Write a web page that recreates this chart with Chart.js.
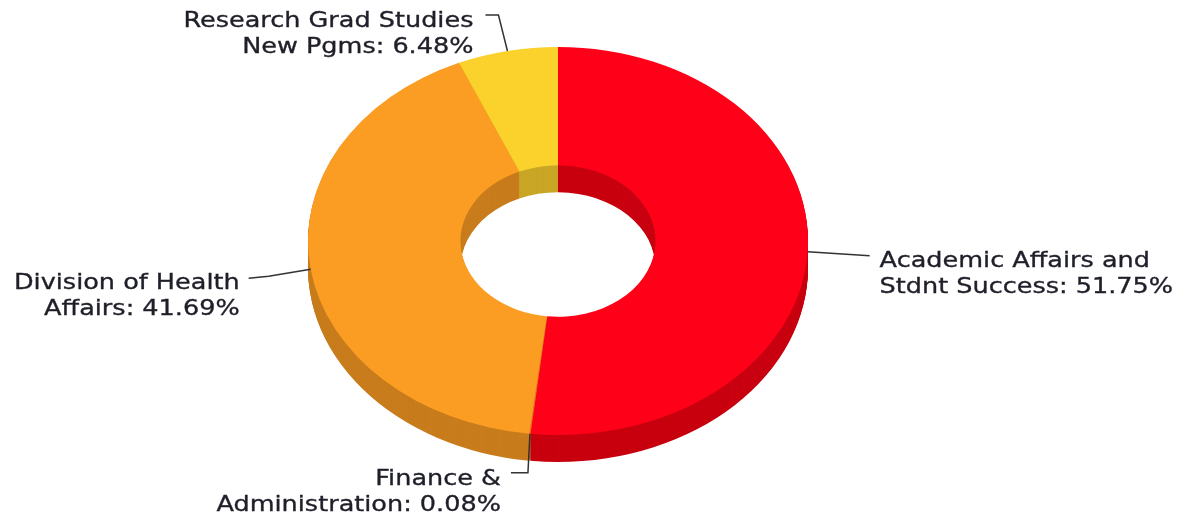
<!DOCTYPE html>
<html>
<head>
<meta charset="utf-8">
<script src="https://cdn.jsdelivr.net/npm/chart.js@4.4.1/dist/chart.umd.min.js"></script>
<style>
  html, body { margin: 0; padding: 0; background: #fff; }
  canvas { display: block; }
</style>
</head>
<body>
<canvas id="chart" width="1187" height="521"></canvas>
<script>
// datos del grafico
const categories = ['Academic Affairs and Stdnt Success', 'Finance & Administration', 'Division of Health Affairs', 'Research Grad Studies New Pgms'];
const shares = [51.75, 0.08, 41.69, 6.48];
// texto de las etiquetas partido en dos lineas
const labelHead = ['Academic Affairs and', 'Finance &', 'Division of Health', 'Research Grad Studies'];
const labelTail = ['Stdnt Success', 'Administration', 'Affairs', 'New Pgms'];

// colores
const topColors = ['#ff0019', '#f26a1f', '#fb9d23', '#fbd22b'];
const sideColors = ['#c8000f', '#bf5418', '#c87c1c', '#c9a626'];

// efecto 3d
const CY = 241;        // centro vertical de la cara superior
const SY = 0.776;      // aplastamiento de la elipse
const DEPTH = 27;      // grosor

// guias de las etiquetas (relativas al punto de anclaje)
const leaders = [
  { path: [[0, 0], [62, 4]], tx: 72, ty: 15, align: 'left' },
  { path: [[0, 0], [-2, 39], [-19, 39]], tx: -29, ty: 51, align: 'right' },
  { path: [[0, 0], [-42, 7], [-62, 9]], tx: -71, ty: 20, align: 'right' },
  { path: [[0, 0], [-9, -36], [-22, -36]], tx: -34, ty: -24, align: 'right' }
];
const LINE_H = 26;
const TEXT_SX = 1.16;

function toScreen(cy, k) {
  return (ctx) => {
    ctx.translate(0, CY + k);
    ctx.scale(1, SY);
    ctx.translate(0, -cy);
  };
}

const pie3d = {
  id: 'pie3d',
  beforeDatasetsDraw(chart) {
    const ctx = chart.ctx;
    const arcs = chart.getDatasetMeta(0).data;
    const cx = arcs[0].x, cy = arcs[0].y;
    // paredes laterales
    for (let k = DEPTH; k >= 1; k--) {
      ctx.save();
      toScreen(cy, k)(ctx);
      arcs.forEach((a, i) => {
        const p = a.getProps(['startAngle', 'endAngle', 'innerRadius', 'outerRadius']);
        ctx.beginPath();
        ctx.arc(cx, cy, p.outerRadius, p.startAngle, p.endAngle);
        ctx.arc(cx, cy, p.innerRadius, p.endAngle, p.startAngle, true);
        ctx.closePath();
        ctx.fillStyle = sideColors[i];
        ctx.fill();
      });
      ctx.restore();
    }
    ctx.save();
    toScreen(cy, 0)(ctx);
  },
  afterDatasetsDraw(chart) {
    const ctx = chart.ctx;
    ctx.restore();
    const arcs = chart.getDatasetMeta(0).data;
    ctx.save();
    ctx.strokeStyle = '#333';
    ctx.lineWidth = 1.5;
    ctx.font = '22px "DejaVu Sans", Verdana, sans-serif';
    arcs.forEach((a, i) => {
      const p = a.getProps(['x', 'y', 'startAngle', 'endAngle', 'outerRadius']);
      const mid = (p.startAngle + p.endAngle) / 2;
      const ax = p.x + p.outerRadius * Math.cos(mid);
      const ay = CY + p.outerRadius * SY * Math.sin(mid);
      const L = leaders[i];
      ctx.beginPath();
      L.path.forEach(([dx, dy], j) => {
        if (j === 0) ctx.moveTo(ax + dx, ay + dy);
        else ctx.lineTo(ax + dx, ay + dy);
      });
      ctx.stroke();
      const lines = [labelHead[i], labelTail[i] + ': ' + shares[i].toFixed(2) + '%'];
      lines.forEach((t, j) => {
        ctx.save();
        ctx.translate(ax + L.tx, ay + L.ty + j * LINE_H);
        ctx.scale(TEXT_SX, 1);
        ctx.textAlign = L.align;
        ctx.textBaseline = 'alphabetic';
        ctx.fillStyle = '#1f1f2a';
        ctx.strokeStyle = '#1f1f2a';
        ctx.lineWidth = 0.35;
        ctx.fillText(t, 0, 0);
        ctx.strokeText(t, 0, 0);
        ctx.restore();
      });
    });
    ctx.restore();
  }
};

new Chart(document.getElementById('chart'), {
  type: 'doughnut',
  data: {
    labels: categories,
    datasets: [{
      data: shares,
      backgroundColor: topColors,
      borderWidth: 0,
      clip: false
    }]
  },
  options: {
    responsive: false,
    devicePixelRatio: 1,
    animation: false,
    cutout: '39%',
    layout: { padding: { left: 308, right: 379, top: 10, bottom: 11 } },
    plugins: {
      legend: { display: false },
      tooltip: { enabled: false }
    }
  },
  plugins: [pie3d]
});
</script>
</body>
</html>
